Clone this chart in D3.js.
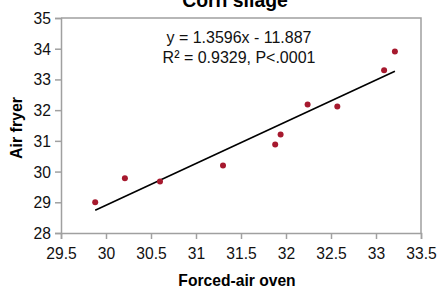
<!DOCTYPE html>
<html>
<head>
<meta charset="utf-8">
<script src="https://cdn.jsdelivr.net/npm/d3@7"></script>
<style>
  body { margin: 0; background: #fff; }
  text { font-family: "Liberation Sans Narrow", "Arial Narrow", "Liberation Sans", sans-serif; }
</style>
</head>
<body>
<div id="chart"></div>
<script>
// data
const ovenVals = [29.88, 30.21, 30.60, 31.30, 31.88, 31.94, 32.24, 32.57, 33.09, 33.21];
const fryerVals = [29.00, 29.78, 29.68, 30.20, 30.88, 31.21, 32.18, 32.12, 33.30, 33.91];
const xTicks = [29.5, 30, 30.5, 31, 31.5, 32, 32.5, 33, 33.5];
const yTicks = [28, 29, 30, 31, 32, 33, 34, 35];
const slope = 1.3596, intercept = -11.887;
const eqLines = ["y = 1.3596x - 11.887", "R² = 0.9329, P<.0001"];

const width = 440, height = 289;
const margin = {top: 18, right: 19, bottom: 56, left: 61};

let svg = d3.select("#chart").append("svg")
  .attr("width", width)
  .attr("height", height);

let x = d3.scaleLinear().domain([29.5, 33.5]).range([margin.left, width - margin.right]);
let y = d3.scaleLinear().domain([28, 35]).range([height - margin.bottom, margin.top]);

const axisColor = "#a0a0a0";

// squeeze text horizontally, the original uses a condensed face
function condense(sel, k) {
  sel.each(function() {
    let w = this.getComputedTextLength();
    d3.select(this)
      .attr("textLength", w * k)
      .attr("lengthAdjust", "spacingAndGlyphs");
  });
}

// frame on top and right
svg.append("path")
  .attr("d", `M${x(29.5)},${y(35)}H${x(33.5)}V${y(28)}`)
  .attr("fill", "none")
  .attr("stroke", axisColor)
  .attr("stroke-width", 1.5);

let xAxis = svg.append("g")
  .attr("transform", `translate(0,${y(28)})`)
  .call(d3.axisBottom(x).tickValues(xTicks).tickSize(6).tickPadding(8).tickFormat(d => d));

let yAxis = svg.append("g")
  .attr("transform", `translate(${x(29.5)},0)`)
  .call(d3.axisLeft(y).tickValues(yTicks).tickSize(6).tickPadding(4).tickFormat(d => d));

[xAxis, yAxis].forEach(a => {
  a.select(".domain").attr("stroke", axisColor).attr("stroke-width", 1.5);
  a.selectAll(".tick line").attr("stroke", axisColor).attr("stroke-width", 1.5);
  a.selectAll(".tick text")
    .attr("fill", "#111")
    .style("font-size", "17px")
    .call(condense, 0.92);
});

// regression line over the data range
let xMin = d3.min(ovenVals), xMax = d3.max(ovenVals);
svg.append("line")
  .attr("x1", x(xMin))
  .attr("y1", y(slope * xMin + intercept))
  .attr("x2", x(xMax))
  .attr("y2", y(slope * xMax + intercept))
  .attr("stroke", "#000")
  .attr("stroke-width", 1.6);

// points
svg.selectAll("circle.pt")
  .data(ovenVals.map((v, i) => [v, fryerVals[i]]))
  .enter().append("circle")
  .attr("class", "pt")
  .attr("cx", d => x(d[0]))
  .attr("cy", d => y(d[1]))
  .attr("r", 3)
  .attr("fill", "#a6192e");

// equation
svg.selectAll("text.eq")
  .data(eqLines)
  .enter().append("text")
  .attr("class", "eq")
  .attr("x", 239)
  .attr("y", (d, i) => 43 + i * 20)
  .attr("text-anchor", "middle")
  .style("font-size", "17px")
  .attr("fill", "#111")
  .text(d => d)
  .call(condense, 0.94);

// title, partly cut off at top as in the original
svg.append("text")
  .attr("x", 235)
  .attr("y", 7)
  .attr("text-anchor", "middle")
  .style("font-size", "20px")
  .style("font-weight", "bold")
  .text("Corn silage")
  .call(condense, 0.97);

svg.append("text")
  .attr("x", 237)
  .attr("y", 286)
  .attr("text-anchor", "middle")
  .style("font-size", "17px")
  .style("font-weight", "bold")
  .text("Forced-air oven")
  .call(condense, 0.92);

svg.append("text")
  .attr("transform", "translate(22,128) rotate(-90)")
  .attr("text-anchor", "middle")
  .style("font-size", "17px")
  .style("font-weight", "bold")
  .text("Air fryer")
  .call(condense, 0.94);
</script>
</body>
</html>
